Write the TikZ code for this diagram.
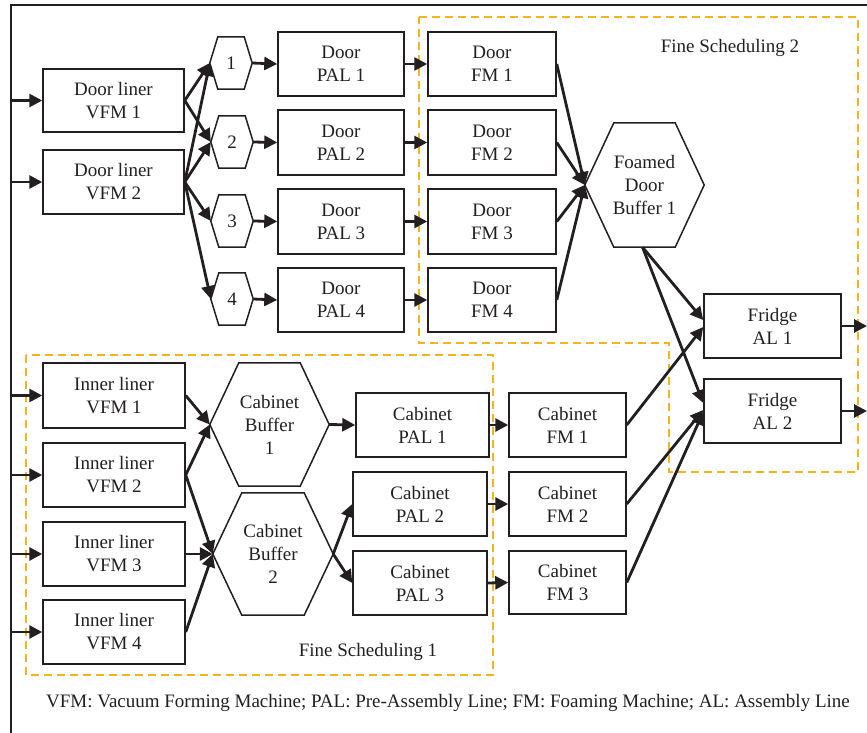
\documentclass[tikz,border=0pt]{standalone}
\usepackage{fontspec}
\setmainfont{Liberation Serif}
\usetikzlibrary{arrows.meta}
\definecolor{fsorange}{RGB}{245,180,30}
\definecolor{ink}{RGB}{35,31,32}
\newcommand{\hexdraw}[2]{\draw[hexline] (#1.west) -- ([xshift=#2]#1.north west) -- ([xshift=-#2]#1.north east) -- (#1.east) -- ([xshift=-#2]#1.south east) -- ([xshift=#2]#1.south west) -- cycle;}
% #1 style, #2 name, #3 x1, #4 y1, #5 x2, #6 y2, #7 text
\newcommand{\bx}[7]{\node[#1, minimum width={#5-#3}, minimum height={#6-#4}] (#2) at ({(#3+#5)/2},{(#4+#6)/2}) {#7};}
\begin{document}
\begin{tikzpicture}[x=1pt,y=-1pt,
  lbl/.style={font=\fontsize{19}{23}\selectfont, text=ink, align=center},
  box/.style={lbl, draw=ink, line width=1.5pt, inner sep=0pt},
  hexbox/.style={lbl, inner sep=0pt},
  hexline/.style={draw=ink, line width=1.5pt, line join=miter},
  arr/.style={draw=ink, line width=2.8pt, -{Triangle[length=13pt,width=13pt]}},
  fs/.style={draw=fsorange, line width=2pt, dash pattern=on 8pt off 5pt},
]
\useasboundingbox (0,0) rectangle (867,733);
\coordinate (frameL) at (11,0);
\coordinate (frameR) at (867,0);
\draw[ink, line width=2pt] (11,733) -- (11,5) -- (867,5);

% dashed regions
\draw[fs] (419,17) -- (858,17) -- (858,472) -- (669,472) -- (669,343) -- (419,343) -- cycle;
\draw[fs] (26,355) rectangle (493,675);
\node[lbl] (fs2) at (730,48) {Fine Scheduling 2};
\node[lbl] (fs1) at (368,652) {Fine Scheduling 1};

% door liner VFMs
\bx{box}{dl1}{43}{69}{184}{132}{Door liner\\VFM 1}
\bx{box}{dl2}{43}{150}{184}{214}{Door liner\\VFM 2}

% small hexagons
\bx{hexbox}{h1}{210}{37}{252}{89}{1}
\bx{hexbox}{h2}{211}{116}{253}{168}{2}
\bx{hexbox}{h3}{211}{195}{253}{247}{3}
\bx{hexbox}{h4}{211}{273}{253}{325}{4}
\hexdraw{h1}{8}\hexdraw{h2}{8}\hexdraw{h3}{8}\hexdraw{h4}{8}

% door PAL
\bx{box}{dp1}{278}{32}{404}{96}{Door\\PAL 1}
\bx{box}{dp2}{278}{110}{404}{175}{Door\\PAL 2}
\bx{box}{dp3}{278}{189}{404}{254}{Door\\PAL 3}
\bx{box}{dp4}{278}{268}{404}{332}{Door\\PAL 4}

% door FM
\bx{box}{df1}{428}{32}{556}{96}{Door\\FM 1}
\bx{box}{df2}{428}{110}{556}{175}{Door\\FM 2}
\bx{box}{df3}{428}{189}{556}{254}{Door\\FM 3}
\bx{box}{df4}{428}{268}{556}{332}{Door\\FM 4}

% foamed door buffer
\bx{hexbox}{fdb}{585}{123}{704}{247}{Foamed\\Door\\Buffer 1}
\hexdraw{fdb}{29}

% fridge AL
\bx{box}{al1}{704}{294}{841}{358}{Fridge\\AL 1}
\bx{box}{al2}{704}{379}{841}{443}{Fridge\\AL 2}

% inner liner VFMs
\bx{box}{il1}{43}{363}{185}{428}{Inner liner\\VFM 1}
\bx{box}{il2}{43}{443}{185}{507}{Inner liner\\VFM 2}
\bx{box}{il3}{43}{522}{185}{586}{Inner liner\\VFM 3}
\bx{box}{il4}{43}{600}{185}{664}{Inner liner\\VFM 4}

% cabinet buffers
\bx{hexbox}{cb1}{210}{363}{329}{486}{Cabinet\\Buffer\\1}
\bx{hexbox}{cb2}{213}{493}{333}{615}{Cabinet\\Buffer\\2}
\hexdraw{cb1}{29}\hexdraw{cb2}{29}

% cabinet PAL
\bx{box}{cp1}{356}{393}{489}{457}{Cabinet\\PAL 1}
\bx{box}{cp2}{353}{472}{487}{536}{Cabinet\\PAL 2}
\bx{box}{cp3}{353}{551}{487}{615}{Cabinet\\PAL 3}

% cabinet FM
\bx{box}{cf1}{509}{393}{626}{457}{Cabinet\\FM 1}
\bx{box}{cf2}{509}{472}{626}{536}{Cabinet\\FM 2}
\bx{box}{cf3}{509}{551}{626}{614}{Cabinet\\FM 3}

% caption
\node[lbl] (cap) at (448,703) {VFM: Vacuum Forming Machine; PAL: Pre-Assembly Line; FM: Foaming Machine; AL: Assembly Line};

% connectors: inputs
\foreach \n in {dl1,dl2,il1,il2,il3,il4}
  \draw[arr] (frameL |- \n.west) -- (\n.west);
% door liner to hexagons
\draw[arr] (dl1.east) -- (h1.west);
\draw[arr] (dl1.east) -- (h2.west);
\foreach \n in {h1,h2,h3,h4}
  \draw[arr] (dl2.east) -- (\n.west);
\foreach \i in {1,2,3,4} {
  \draw[arr] (h\i.east) -- (dp\i.west);
  \draw[arr] (dp\i.east) -- (df\i.west);
  \draw[arr] (df\i.east) -- (fdb.west);
}
\draw[arr] ([xshift=-2pt]fdb.south) -- ([yshift=6pt]al1.west);
\draw[arr] ([xshift=-2pt]fdb.south) -- ([yshift=8pt]al2.west);
\draw[arr] (cf1.east) -- ([yshift=-1pt]al1.west);
\draw[arr] (cf2.east) -- ([yshift=1pt]al2.west);
\draw[arr] (cf3.east) -- ([yshift=-1pt]al2.west);
\draw[arr] (al1.east) -- (al1.east -| frameR);
\draw[arr] (al2.east) -- (al2.east -| frameR);
% cabinet side
\draw[arr] (il1.east) -- (cb1.west);
\draw[arr] (il2.east) -- (cb1.west);
\draw[arr] (il2.east) -- (cb2.west);
\draw[arr] (il3.east) -- (cb2.west);
\draw[arr] (il4.east) -- (cb2.west);
\draw[arr] (cb1.east) -- (cp1.west);
\draw[arr] (cb2.east) -- (cp2.west);
\draw[arr] (cb2.east) -- (cp3.west);
\foreach \i in {1,2,3}
  \draw[arr] (cp\i.east) -- (cf\i.west);
\end{tikzpicture}
\end{document}
